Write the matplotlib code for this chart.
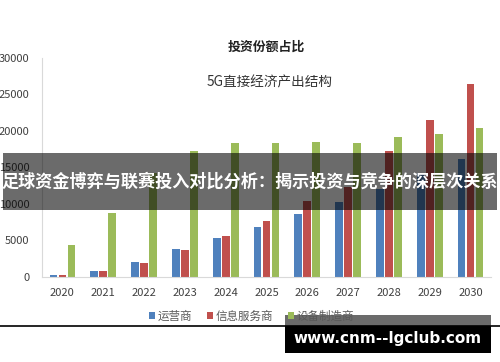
import numpy as np
import matplotlib
matplotlib.use('Agg')
import matplotlib.pyplot as plt
from matplotlib.patches import Rectangle

plt.rcParams['font.family'] = ['Noto Sans CJK SC', 'DejaVu Sans']

years = ['2020', '2021', '2022', '2023', '2024', '2025', '2026', '2027', '2028', '2029', '2030']
operators = [200, 850, 2000, 3800, 5400, 6900, 8600, 10300, 12100, 14300, 16200]
info_services = [200, 750, 1950, 3700, 5600, 7600, 10400, 12300, 17200, 21500, 26400]
equipment = [4400, 8800, 14200, 17300, 18300, 18300, 18500, 18400, 19100, 19600, 20400]
series_names = ['运营商', '信息服务商', '设备制造商']
colors = ['#4f81bd', '#c0504d', '#9bbb59']

fig = plt.figure(figsize=(5, 3.62), dpi=100)
ax = fig.add_axes([0.084, 0.235, 0.898, 0.605])

x = np.arange(len(years))
w = 0.19
for i, vals in enumerate([operators, info_services, equipment]):
    ax.bar(x + (i - 1) * 0.22, vals, width=w, color=colors[i], label=series_names[i])

ax.set_xlim(-0.5, 10.5)
ax.set_ylim(0, 30000)
ax.set_yticks(range(0, 30001, 5000))
ax.set_xticks(x)
ax.set_xticklabels(years)
ax.tick_params(length=0, labelsize=8, colors='#404040', pad=8)
ax.tick_params(axis='y', pad=9)
for s in ['top', 'right']:
    ax.spines[s].set_visible(False)
ax.spines['left'].set_color('#d9d9d9')
ax.spines['bottom'].set_color('#d9d9d9')

fig.text(0.533, 0.872, '投资份额占比', ha='center', va='center', fontsize=9.3,
         fontweight='bold', color='#222222')
fig.text(0.539, 0.773, '5G直接经济产出结构', ha='center', va='center', fontsize=9.8,
         color='#333333')

leg = fig.legend(loc='center', bbox_to_anchor=(0.503, 0.127), ncol=3, frameon=False,
                 fontsize=8.3, handlelength=0.55, handleheight=0.55, handletextpad=0.2,
                 columnspacing=1.3)
for t in leg.get_texts():
    t.set_color('#595959')

# horizontal black rule
fig.add_artist(plt.Line2D([0, 1], [1 - 326 / 362, 1 - 326 / 362], color='black', lw=1.2,
                          transform=fig.transFigure))

# overlay banner
fig.patches.append(Rectangle((3 / 500, 1 - 210 / 362), 494 / 500, 57 / 362, lw=0,
                             transform=fig.transFigure, facecolor='black', alpha=0.58, zorder=5))
fig.text(0.5, 1 - 182 / 362, '足球资金博弈与联赛投入对比分析：揭示投资与竞争的深层次关系',
         ha='center', va='center', fontsize=12.3, fontweight='bold', color='white', zorder=6)

# watermark box
fig.patches.append(Rectangle((285 / 500, 1 - 326 / 362), 206 / 500, 11 / 362, lw=0,
                             transform=fig.transFigure, facecolor='black', alpha=0.58, zorder=5))
fig.patches.append(Rectangle((285 / 500, 1 - 353 / 362), 206 / 500, 27 / 362, lw=0,
                             transform=fig.transFigure, facecolor='black', zorder=5))
fig.text(388 / 500, 1 - 338 / 362, 'www.cnm--lgclub.com', ha='center', va='center',
         fontsize=11, fontweight='bold', color='white', family='DejaVu Sans', zorder=6)

fig.savefig('out.png', dpi=100)
